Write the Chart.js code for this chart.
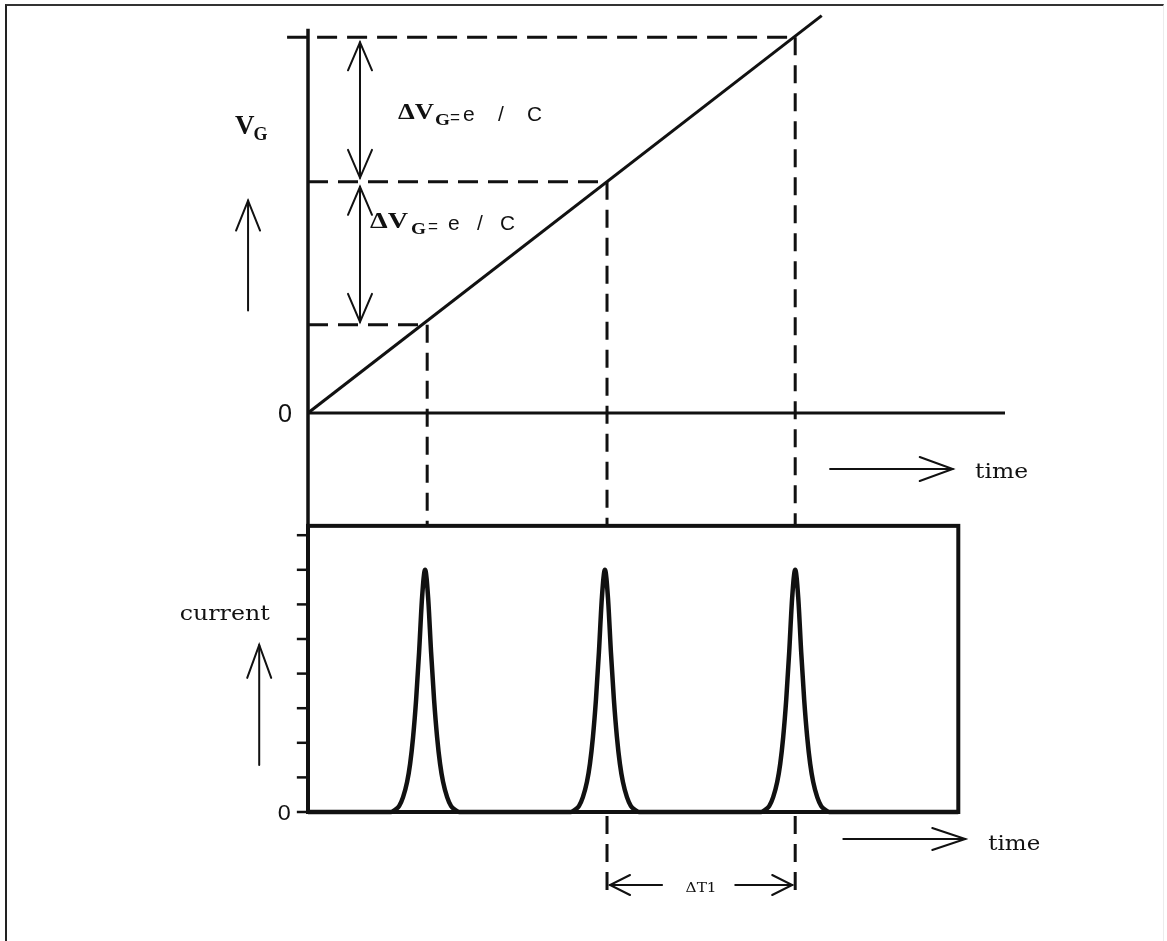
<!DOCTYPE html>
<html><head><meta charset="utf-8">
<script src="https://cdn.jsdelivr.net/npm/chart.js@4.4.0/dist/chart.umd.min.js"></script>
<style>
html,body{margin:0;padding:0;background:#fff;}
#wrap{position:relative;width:1167px;height:941px;overflow:hidden;}
#frame{position:absolute;left:5px;top:4px;width:1159px;height:940px;border-left:2px solid #222;border-top:2px solid #333;border-right:1px solid #ececec;box-sizing:border-box;pointer-events:none;}
canvas{position:absolute;left:0;top:0;}
</style></head><body>
<div id="wrap"><canvas id="c" width="1167" height="941"></canvas><div id="frame"></div></div>
<script>
// ---------- data (arbitrary units) ----------
const timeRange = [0, 10];                 // time axis extent of the upper panel
const eventTimes = [1.71, 4.29, 6.99];     // times of the single-electron events
const gateLevels = [0.61, 1.60, 2.60];     // V_G at each event (steps of e/C)
const rampTimes = [0, 7.37];               // gate-voltage ramp
const rampVoltages = [0, 2.75];
const currentTimes = [0,
  1.192, 1.250, 1.307, 1.364, 1.422, 1.465, 1.508, 1.551, 1.594, 1.637, 1.68,
  1.723, 1.766, 1.809, 1.852, 1.895, 1.938, 1.996, 2.053, 2.110, 2.168,
  3.772, 3.830, 3.887, 3.944, 4.002, 4.045, 4.088, 4.131, 4.174, 4.217, 4.26,
  4.303, 4.346, 4.389, 4.432, 4.475, 4.518, 4.576, 4.633, 4.690, 4.748,
  6.502, 6.560, 6.617, 6.674, 6.732, 6.775, 6.818, 6.861, 6.904, 6.947, 6.99,
  7.033, 7.076, 7.119, 7.162, 7.205, 7.248, 7.306, 7.363, 7.420, 7.478,
  9.33];
const currentValues = [0,
  0, 0.06, 0.17, 0.43, 0.87, 1.39, 2.17, 3.24, 4.62, 6.21, 7.0,
  6.21, 4.62, 3.24, 2.17, 1.39, 0.87, 0.43, 0.17, 0.06, 0,
  0, 0.06, 0.17, 0.43, 0.87, 1.39, 2.17, 3.24, 4.62, 6.21, 7.0,
  6.21, 4.62, 3.24, 2.17, 1.39, 0.87, 0.43, 0.17, 0.06, 0,
  0, 0.06, 0.17, 0.43, 0.87, 1.39, 2.17, 3.24, 4.62, 6.21, 7.0,
  6.21, 4.62, 3.24, 2.17, 1.39, 0.87, 0.43, 0.17, 0.06, 0,
  0];
const currentTicks = [0, 1, 2, 3, 4, 5, 6, 7, 8];
const currentBox = [9.33, 8.27];           // [time end, current top] of lower panel
const vAxisTop = 2.66;
const zeroLabel = '0';
const vLabel = ['V', 'G'];
const stepLabel = ['\u0394V', 'G', '=', 'e', '/', 'C'];
const currentLabel = 'current';
const timeLabel = 'time';
const dtLabel = '\u0394T1';

const rampData = rampTimes.map((t, i) => ({x: t, y: rampVoltages[i]}));
const currentData = currentTimes.map((t, i) => ({x: t, y: currentValues[i]}));

function arrowHead(ctx, x1, y1, x2, y2, len, half) {
  const a = Math.atan2(y2 - y1, x2 - x1);
  const c = Math.cos(a), s = Math.sin(a);
  ctx.beginPath();
  ctx.moveTo(x2 - c * len - s * half, y2 - s * len + c * half);
  ctx.lineTo(x2, y2);
  ctx.lineTo(x2 - c * len + s * half, y2 - s * len - c * half);
  ctx.stroke();
}
function arrow(ctx, x1, y1, x2, y2, len, half, both) {
  ctx.beginPath(); ctx.moveTo(x1, y1); ctx.lineTo(x2, y2); ctx.stroke();
  arrowHead(ctx, x1, y1, x2, y2, len, half);
  if (both) arrowHead(ctx, x2, y2, x1, y1, len, half);
}
function line(ctx, x1, y1, x2, y2, w, dash) {
  ctx.save();
  ctx.lineWidth = w; ctx.setLineDash(dash || []);
  ctx.beginPath(); ctx.moveTo(x1, y1); ctx.lineTo(x2, y2); ctx.stroke();
  ctx.restore();
}
function txt(ctx, s, x, y, font, width, align) {
  ctx.save();
  ctx.font = font; ctx.textBaseline = 'alphabetic'; ctx.textAlign = 'left';
  const m = ctx.measureText(s).width;
  const k = width ? width / m : 1;
  let x0 = x;
  if (align === 'center') x0 = x - m * k / 2;
  if (align === 'right') x0 = x - m * k;
  ctx.translate(x0, y); ctx.scale(k, 1);
  ctx.fillText(s, 0, 0);
  ctx.restore();
  return m * k;
}

const diagram = {
  id: 'diagram',
  beforeDatasetsDraw(chart) {
    const ctx = chart.ctx, sc = chart.scales;
    const X = v => sc.x.getPixelForValue(v), YV = v => sc.yV.getPixelForValue(v), YI = v => sc.yI.getPixelForValue(v);
    ctx.save();
    ctx.strokeStyle = '#111'; ctx.fillStyle = '#111'; ctx.lineCap = 'butt';
    // vertical axis (shared) and time axis of the upper panel
    line(ctx, X(0), YV(vAxisTop), X(0), YI(0) + 2, 3.5);
    line(ctx, X(0), YV(0), X(timeRange[1]), YV(0), 3);
    // lower panel box
    ctx.save(); ctx.lineWidth = 4;
    ctx.strokeRect(X(0), YI(currentBox[1]), X(currentBox[0]) - X(0), YI(0) - YI(currentBox[1]));
    ctx.restore();
    // y ticks of the current axis
    currentTicks.forEach(v => line(ctx, X(-0.16), YI(v), X(0), YI(v), 2.5));
    // dashed level lines and vertical guides
    const dash = [20, 10];
    gateLevels.forEach((lv, i) => {
      const t0 = i === gateLevels.length - 1 ? -0.30 : 0;
      line(ctx, X(t0), YV(lv), X(eventTimes[i]), YV(lv), 3, dash);
      line(ctx, X(eventTimes[i]), YV(lv), X(eventTimes[i]), YI(currentBox[1]), 3, [18, 10]);
    });
    // delta T guides
    [1, 2].forEach(i => line(ctx, X(eventTimes[i]), YI(0) + 4, X(eventTimes[i]), YI(-2.34), 3, [18, 10]));
    ctx.restore();
  },
  afterDatasetsDraw(chart) {
    const ctx = chart.ctx, sc = chart.scales;
    const X = v => sc.x.getPixelForValue(v), YV = v => sc.yV.getPixelForValue(v), YI = v => sc.yI.getPixelForValue(v);
    ctx.save();
    ctx.strokeStyle = '#111'; ctx.fillStyle = '#111'; ctx.lineWidth = 2; ctx.lineCap = 'round';
    // double arrows e/C
    const ta = 0.746;
    arrow(ctx, X(ta), YV(gateLevels[2]) + 5, X(ta), YV(gateLevels[1]) - 4, 28, 12, true);
    arrow(ctx, X(ta), YV(gateLevels[1]) + 5, X(ta), YV(gateLevels[0]) - 3, 28, 12, true);
    // V_G up arrow
    arrow(ctx, X(-0.86), YV(0.71), X(-0.86), YV(1.47), 30, 12);
    // current up arrow
    arrow(ctx, X(-0.70), YI(1.36), X(-0.70), YI(4.83), 33, 12);
    // time arrows
    arrow(ctx, X(7.49), YV(-0.388), X(9.25), YV(-0.388), 33, 12);
    arrow(ctx, X(7.68), YI(-0.78), X(9.43), YI(-0.78), 33, 11);
    // delta T arrows
    const ya = YI(-2.11);
    arrow(ctx, X(eventTimes[1] + 0.79), ya, X(eventTimes[1]) + 3, ya, 20, 10);
    arrow(ctx, X(eventTimes[2] - 0.86), ya, X(eventTimes[2]) - 3, ya, 20, 10);

    // texts
    const serifB = s => 'bold ' + s + 'px "Liberation Serif", "DejaVu Serif", serif';
    const serif = s => s + 'px "DejaVu Serif", "Liberation Serif", serif';
    const sans = s => s + 'px "Liberation Sans", Arial, sans-serif';
    txt(ctx, zeroLabel, X(-0.33), YV(0) + 9, sans(25), 14, 'center');
    txt(ctx, zeroLabel, X(-0.34), YI(0) + 8, sans(22), 13, 'center');
    // V_G
    let w = txt(ctx, vLabel[0], X(-1.047), YV(1.93), serifB(27));
    txt(ctx, vLabel[1], X(-1.047) + w - 1, YV(1.93) + 6, serifB(18));
    // step labels
    function step(t, v, dvw, offs) {
      const x = X(t), y = YV(v);
      txt(ctx, stepLabel[0], x, y, serifB(24), dvw);
      txt(ctx, stepLabel[1], x + offs[0], y + 6, serifB(17), 15);
      txt(ctx, stepLabel[2], x + offs[1], y + 4, sans(18), 10);
      txt(ctx, stepLabel[3], x + offs[2], y + 2, sans(21));
      txt(ctx, stepLabel[4], x + offs[3], y + 2, sans(21));
      txt(ctx, stepLabel[5], x + offs[4], y + 2, sans(21), 15);
    }
    step(1.29, 2.035, 36, [37, 52, 65, 100, 129]);
    step(0.89, 1.28, 38, [41, 58, 78, 107, 130]);
    // current label
    txt(ctx, currentLabel, X(-1.84), YI(5.54), serif(20), 90);
    // time labels
    txt(ctx, timeLabel, X(9.57), YV(-0.452), serif(21), 53);
    txt(ctx, timeLabel, X(9.76), YI(-1.10), serif(21), 52);
    // delta T label
    txt(ctx, dtLabel, X((eventTimes[1] + eventTimes[2]) / 2), YI(-2.31), serif(12), 31, 'center');
    ctx.restore();
  }
};

new Chart(document.getElementById('c'), {
  type: 'scatter',
  data: {
    datasets: [
      {data: rampData, yAxisID: 'yV', showLine: true, borderColor: '#111', borderWidth: 3, pointRadius: 0, fill: false},
      {data: currentData, yAxisID: 'yI', showLine: true, borderColor: '#111', borderWidth: 4.5, pointRadius: 0, fill: false, cubicInterpolationMode: 'monotone', borderJoinStyle: 'round'}
    ]
  },
  options: {
    responsive: false, animation: false, devicePixelRatio: 1,
    layout: {padding: {left: 308, right: 162, top: 5, bottom: 36}},
    plugins: {legend: {display: false}, tooltip: {enabled: false}},
    scales: {
      x: {type: 'linear', min: timeRange[0], max: timeRange[1], display: false},
      yV: {type: 'linear', position: 'left', min: -3.4049, max: 2.8235, display: false},
      yI: {type: 'linear', position: 'left', min: -2.688, max: 23.324, display: false}
    }
  },
  plugins: [diagram]
});
</script>
</body></html>
